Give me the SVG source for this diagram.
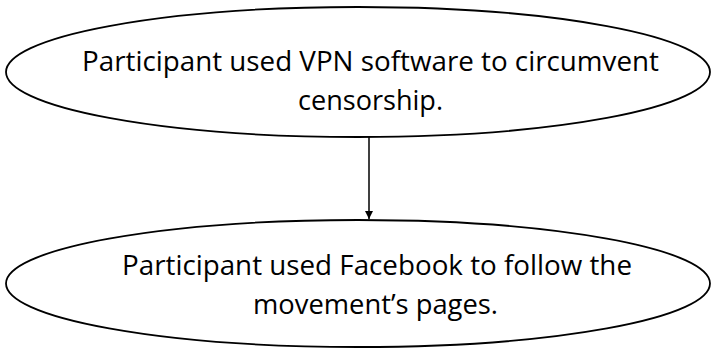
<svg xmlns="http://www.w3.org/2000/svg" width="712" height="349" viewBox="0 0 712 349">
<style>
.node ellipse{fill:#fff;stroke:#000;stroke-width:1.8}
.node text{font-family:"Open Sans","Liberation Sans",Arial,sans-serif;font-size:27px;fill:#000;text-anchor:middle}
</style>
<defs>
<marker id="arr" viewBox="0 0 10 10" refX="10" refY="5" markerWidth="5.5" markerHeight="5.5" orient="auto"><path d="M0,0 L10,5 L0,10 z" fill="#000"/></marker>
</defs>
<rect width="712" height="349" fill="#fff"/>
<g id="connectors">
<line x1="369" y1="137" x2="369" y2="219" stroke="#000" stroke-width="1.5" marker-end="url(#arr)"/>
</g>
<g id="node1" class="node">
<ellipse cx="358" cy="72" rx="352" ry="65"/>
<text x="370.5" y="71" textLength="577" lengthAdjust="spacingAndGlyphs">Participant used VPN software to circumvent</text>
<text x="370.5" y="110" textLength="145" lengthAdjust="spacingAndGlyphs">censorship.</text>
</g>
<g id="node2" class="node">
<ellipse cx="358" cy="283.5" rx="352" ry="63.5"/>
<text x="377" y="275" textLength="510" lengthAdjust="spacingAndGlyphs">Participant used Facebook to follow the</text>
<text x="375.5" y="314" textLength="245" lengthAdjust="spacingAndGlyphs">movement’s pages.</text>
</g>
</svg>
